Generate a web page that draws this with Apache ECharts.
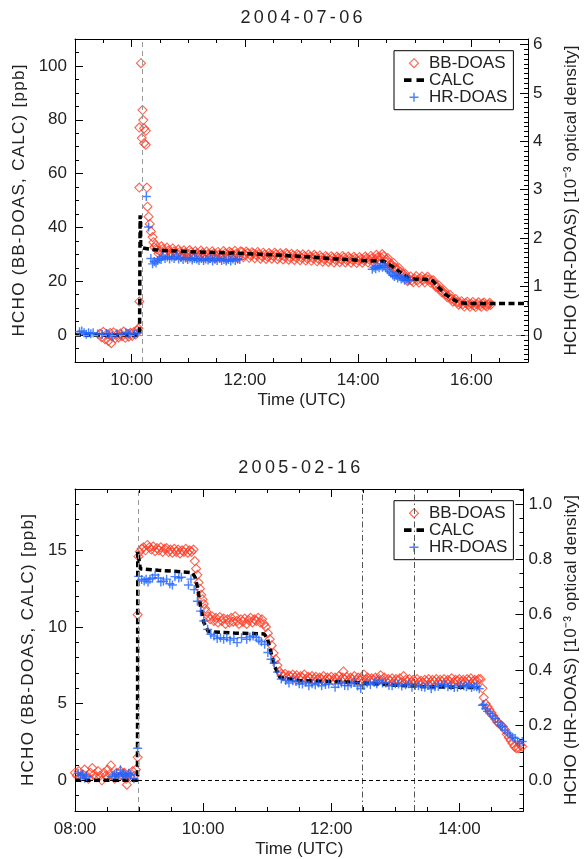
<!DOCTYPE html>
<html><head><meta charset="utf-8">
<script src="https://cdn.jsdelivr.net/npm/echarts@6/dist/echarts.min.js"></script>
<style>html,body{margin:0;padding:0;background:#fff}#c{width:588px;height:859px}</style>
</head><body><div id="c"></div>
<script>
// ---------------- DATA ----------------
const panelTitles = ['2004-07-06', '2005-02-16'];
const seriesNames = ['BB-DOAS', 'CALC', 'HR-DOAS'];
const xTitle = 'Time (UTC)';
const yLeftTitle = 'HCHO (BB-DOAS, CALC) [ppb]';
const yRightTitle = 'HCHO (HR-DOAS) [10⁻³ optical density]';

// Tick labels
const topTimeLabels = ['10:00', '12:00', '14:00', '16:00'];
const botTimeLabels = ['08:00', '10:00', '12:00', '14:00'];
const topPpbLabels = ['0', '20', '40', '60', '80', '100'];
const botPpbLabels = ['0', '5', '10', '15'];
const topOdLabels = ['0', '1', '2', '3', '4', '5', '6'];
const botOdLabels = ['0.0', '0.2', '0.4', '0.6', '0.8', '1.0'];

// Reference lines (time in decimal hours, value in ppb)
const topVLines = [10.19];
const topHLines = [0];
const botVDashed = [8.978];
const botVDashDot = [12.48, 13.29];
const botHLines = [0];

// 2004-07-06 : BB-DOAS [hour, ppb]
const bbTop = [
[9.44,0.5],[9.47,-0.8],[9.50,1.2],[9.53,-1.5],[9.56,0.3],[9.59,-2.2],[9.62,0.8],[9.64,-3.0],[9.65,-0.5],[9.68,1.0],
[9.71,-1.2],[9.74,0.2],[9.77,-0.9],[9.80,0.6],[9.83,-0.4],[9.86,1.3],[9.89,-1.0],[9.92,0.4],[9.95,-0.6],[9.98,0.9],
[10.01,-0.3],[10.04,1.1],[10.07,0.2],[10.10,1.8],[10.12,2.5],
[10.136,12.5],[10.136,77.1],[10.136,54.8],[10.165,101],[10.18,73.2],[10.193,83.6],[10.205,79.9],[10.22,76.8],[10.25,75.9],
[10.22,71.3],[10.25,70.7],[10.27,54.8],[10.28,47.7],[10.30,44.0],[10.32,41.3],[10.34,38.5],[10.37,36.4],[10.385,34.5],
[10.40,32.6],[10.45,31.8],[10.50,31.2],[10.55,32.0],[10.60,30.6],[10.65,31.4],[10.70,30.5],[10.75,31.1],[10.80,30.2],[10.85,30.9],
[10.90,29.8],[10.95,30.6],[11.00,30.0],[11.05,30.8],[11.10,29.6],[11.15,30.4],[11.20,29.7],[11.25,30.5],[11.30,29.4],[11.35,30.1],
[11.40,29.5],[11.45,30.3],[11.50,29.2],[11.55,30.0],[11.60,29.6],[11.65,30.4],[11.70,29.3],[11.75,30.6],[11.80,29.8],[11.85,30.2],
[11.90,29.4],[11.95,30.9],[12.00,29.9],[12.05,30.5],[12.10,29.6],[12.15,30.3],[12.20,29.8],[12.25,30.1],[12.30,29.3],[12.35,29.9],
[12.40,29.1],[12.45,29.8],[12.50,29.4],[12.55,30.0],[12.60,29.0],[12.65,29.7],[12.70,29.2],[12.75,29.9],[12.80,28.8],[12.85,29.5],
[12.90,28.9],[12.95,29.6],[13.00,28.7],[13.05,29.3],[13.10,28.5],[13.15,29.1],[13.20,28.6],[13.25,29.2],[13.30,28.3],[13.35,28.9],
[13.40,28.2],[13.45,28.8],[13.50,28.0],[13.55,28.7],[13.60,27.9],[13.65,28.6],[13.70,28.1],[13.75,28.8],[13.80,27.8],[13.85,28.5],
[13.90,27.9],[13.95,28.4],[14.00,27.7],[14.05,28.3],[14.10,27.8],[14.15,28.5],[14.20,28.0],[14.25,28.6],[14.30,28.2],[14.35,29.0],
[14.40,28.9],[14.45,29.3],[14.50,28.0],[14.55,27.0],[14.60,26.0],[14.65,25.2],[14.70,24.3],[14.75,23.5],[14.80,22.6],[14.85,21.5],
[14.90,20.8],[14.95,20.3],[15.00,21.0],[15.05,20.4],[15.10,21.1],[15.15,20.5],[15.20,21.0],[15.25,20.6],[15.30,20.2],[15.35,19.0],
[15.40,17.9],[15.45,17.0],[15.50,16.0],[15.55,15.1],[15.60,14.3],[15.65,13.5],[15.70,12.9],[15.75,12.2],[15.80,11.8],[15.85,11.5],
[15.90,11.9],[15.95,11.2],[16.00,11.6],[16.05,11.0],[16.10,11.5],[16.15,11.1],[16.20,11.7],[16.25,11.0],[16.30,11.4],[16.34,11.2],
[10.425,33.4],[10.475,30.3],[10.525,33.0],[10.575,30.0],[10.625,32.5],[10.675,29.6],[10.725,32.2],[10.775,29.4],[10.825,31.8],[10.875,29.2],
[10.925,31.5],[10.975,29.0],[11.025,31.6],[11.075,28.9],[11.125,31.2],[11.175,28.8],[11.225,31.4],[11.275,28.7],[11.325,31.0],[11.375,28.6],
[11.425,31.1],[11.475,28.5],[11.525,30.9],[11.575,28.7],[11.625,31.2],[11.675,28.4],[11.725,31.0],[11.775,28.8],[11.825,31.3],[11.875,28.6],
[11.925,31.1],[11.975,28.9],[12.025,31.0],[12.075,28.7],[12.125,30.8],[12.175,28.6],[12.225,30.9],[12.275,28.4],[12.325,30.6],[12.375,28.3],
[12.425,30.5],[12.475,28.4],[12.525,30.6],[12.575,28.2],[12.625,30.4],[12.675,28.1],[12.725,30.5],[12.775,28.0],[12.825,30.2],[12.875,27.9],
[12.925,30.1],[12.975,27.8],[13.025,30.0],[13.075,27.7],[13.125,29.9],[13.175,27.6],[13.225,29.8],[13.275,27.4],[13.325,29.6],[13.375,27.3],
[13.425,29.4],[13.475,27.2],[13.525,29.3],[13.575,27.0],[13.625,29.2],[13.675,27.1],[13.725,29.4],[13.775,27.0],[13.825,29.2],[13.875,26.9],
[13.925,29.1],[13.975,26.8],[14.025,29.0],[14.075,26.9],[14.125,29.2],[14.175,27.0],[14.225,29.4],[14.275,27.2],[14.325,29.8],[14.375,27.9],
[14.425,30.1],[14.475,27.6],[14.525,28.6],[14.575,25.9],[14.625,26.8],[14.675,24.0],[14.725,24.9],[14.775,22.0],[14.825,22.9],[14.875,20.0],
[14.925,21.8],[14.975,19.6],[15.025,21.9],[15.075,19.5],[15.125,21.8],[15.175,19.6],[15.225,21.7],[15.275,19.5],[15.325,20.4],[15.375,17.9],
[15.425,18.5],[15.475,15.9],[15.525,16.5],[15.575,14.1],[15.625,14.9],[15.675,12.4],[15.725,13.4],[15.775,11.3],[15.825,12.6],[15.875,10.6],
[15.925,12.4],[15.975,10.5],[16.025,12.3],[16.075,10.4],[16.125,12.2],[16.175,10.5],[16.225,12.1],[16.275,10.6],[16.325,12.0]
];

// 2004-07-06 : CALC [hour, ppb]
const calcTop = [
[9.0,0],[10.14,0],[10.15,44.5],[10.165,44],[10.17,32.5],[10.3,32.0],[10.5,31.5],[11.0,31.0],[11.9,30.4],[12.5,29.8],
[13.0,29.2],[13.6,28.3],[14.0,27.8],[14.45,27.4],[14.52,26.6],[14.6,25.6],[14.75,23.2],[14.9,21.0],[15.0,20.8],[15.3,20.6],
[15.4,18.2],[15.55,15.0],[15.7,13.0],[15.8,12.0],[15.9,11.8],[16.3,11.7],[17.0,11.7]
];

// 2004-07-06 : HR-DOAS [hour, 1e-3 optical density]
const hrTop = [
[9.08,0.067],[9.12,0.083],[9.16,0.05],[9.20,0.017],[9.24,0.05],[9.28,0.028],[9.32,0.05],[9.40,0.022],[9.48,0.011],[9.56,0.033],
[9.60,0.017],[9.66,-0.017],[9.74,0.028],[9.82,0.011],[9.90,0.05],[9.94,0.028],[9.97,0.033],[10.05,0.017],[10.10,0.044],
[10.26,2.86],[10.30,2.23],
[10.34,1.58],[10.37,1.47],[10.40,1.52],[10.43,1.49],[10.46,1.54],[10.49,1.58],[10.52,1.56],[10.55,1.62],[10.59,1.58],[10.63,1.61],
[10.67,1.57],[10.71,1.61],[10.75,1.58],[10.79,1.63],[10.83,1.57],[10.87,1.60],[10.91,1.56],[10.95,1.59],[10.99,1.56],[11.03,1.59],
[11.07,1.55],[11.11,1.58],[11.15,1.57],[11.19,1.54],[11.23,1.58],[11.27,1.54],[11.31,1.57],[11.35,1.55],[11.39,1.58],[11.43,1.53],
[11.47,1.57],[11.51,1.54],[11.55,1.58],[11.59,1.54],[11.63,1.56],[11.67,1.53],[11.71,1.56],[11.75,1.53],[11.79,1.57],[11.83,1.54],
[11.87,1.57],[11.91,1.56],
[14.25,1.36],[14.28,1.40],[14.31,1.37],[14.34,1.42],[14.37,1.39],[14.40,1.43],[14.43,1.40],[14.46,1.44],[14.49,1.39],[14.52,1.35],
[14.55,1.31],[14.58,1.28],[14.61,1.24],[14.64,1.21],[14.67,1.23],[14.70,1.18],[14.73,1.21],[14.76,1.16],[14.79,1.18],[14.82,1.13],
[14.85,1.16],[14.88,1.13],[14.91,1.14]
];

// 2005-02-16 : BB-DOAS [hour, ppb]
const bbBot = [
[8.00,0.5],[8.03,0.3],[8.06,0.6],[8.09,0.2],[8.12,0.4],[8.15,0.7],[8.18,0.3],[8.21,0.1],[8.24,0.5],[8.27,0.8],
[8.30,0.4],[8.33,0.2],[8.36,0.6],[8.39,0.3],[8.42,0.0],[8.45,0.5],[8.48,0.3],[8.51,0.7],[8.54,0.4],[8.56,0.97],
[8.59,0.3],[8.62,0.1],[8.65,0.5],[8.68,0.2],[8.71,0.6],[8.74,0.3],[8.77,0.5],[8.80,0.1],[8.81,-0.28],[8.84,0.4],
[8.87,0.2],[8.90,0.6],[8.93,0.3],[8.95,0.7],
[8.978,1.5],[8.978,10.8],[8.99,14.6],
[9.01,14.9],[9.04,15.1],[9.07,15.2],[9.10,15.0],[9.13,15.35],[9.16,15.2],[9.19,15.05],[9.22,15.25],[9.25,14.95],[9.28,15.15],
[9.31,15.0],[9.34,15.2],[9.37,14.9],[9.40,15.1],[9.43,15.15],[9.46,14.9],[9.49,15.05],[9.52,14.85],[9.55,15.1],[9.58,14.9],
[9.61,15.05],[9.64,14.8],[9.67,15.0],[9.70,14.9],[9.73,15.1],[9.76,14.85],[9.79,15.0],[9.82,14.9],[9.85,15.05],
[9.87,14.3],[9.89,13.8],[9.91,13.4],[9.93,12.9],[9.95,12.5],[9.97,12.1],[9.99,11.8],[10.01,11.5],[10.03,11.2],[10.05,11.0],[10.08,10.7],
[10.11,10.5],[10.14,10.7],[10.17,10.4],[10.20,10.6],[10.23,10.3],[10.26,10.65],[10.29,10.4],[10.32,10.55],[10.35,10.2],[10.38,10.5],
[10.41,10.3],[10.44,10.6],[10.47,10.35],[10.50,10.7],[10.53,10.4],[10.56,10.2],[10.59,10.5],[10.62,10.35],[10.65,10.55],[10.68,10.2],
[10.71,10.45],[10.74,10.6],[10.77,10.3],[10.80,10.5],[10.83,10.4],[10.86,10.6],[10.89,10.3],[10.92,10.5],[10.95,10.2],
[10.98,10.0],[11.01,9.6],[11.04,9.2],[11.07,8.8],[11.10,8.3],[11.13,7.9],[11.16,7.5],[11.19,7.1],[11.22,6.95],
[11.25,6.8],[11.28,6.95],[11.31,6.7],[11.34,6.85],[11.37,6.75],[11.40,6.9],[11.43,6.7],[11.46,6.85],[11.49,6.65],[11.52,6.8],
[11.55,6.7],[11.58,6.9],[11.61,6.6],[11.64,6.75],[11.67,6.65],[11.70,6.8],[11.73,6.6],[11.76,6.75],[11.79,6.55],[11.82,6.7],
[11.85,6.6],[11.88,6.8],[11.91,6.55],[11.94,6.7],[11.97,6.6],[12.00,6.75],[12.03,6.5],[12.06,6.7],[12.09,6.6],[12.12,6.8],
[12.15,6.55],[12.18,6.7],[12.19,7.1],[12.21,6.6],[12.24,6.75],[12.27,6.5],[12.30,6.7],[12.33,6.6],[12.36,6.8],[12.39,6.55],
[12.42,6.7],[12.45,6.5],[12.48,6.65],[12.51,6.9],[12.54,6.6],[12.57,6.7],[12.60,6.5],[12.63,6.65],[12.66,6.55],[12.69,6.7],
[12.72,6.45],[12.75,6.6],[12.77,6.85],[12.80,6.55],[12.83,6.7],[12.86,6.45],[12.89,6.6],[12.92,6.5],[12.95,6.65],[12.98,6.45],
[13.01,6.6],[13.04,6.5],[13.07,6.65],[13.10,6.4],[13.13,6.8],[13.16,6.55],[13.19,6.45],[13.22,6.6],[13.25,6.4],[13.28,6.55],
[13.31,6.45],[13.34,6.6],[13.37,6.4],[13.40,6.5],[13.43,6.35],[13.46,6.55],[13.49,6.45],[13.52,6.6],[13.55,6.4],[13.58,6.55],
[13.61,6.45],[13.64,6.6],[13.67,6.4],[13.70,6.55],[13.73,6.45],[13.76,6.6],[13.79,6.4],[13.82,6.55],[13.85,6.45],[13.88,6.65],
[13.91,6.4],[13.94,6.55],[13.97,6.5],[14.00,6.6],[14.03,6.45],[14.06,6.55],[14.09,6.4],[14.12,6.6],[14.15,6.5],[14.18,6.65],
[14.21,6.45],[14.24,6.55],[14.27,6.5],[14.30,6.6],
[14.33,6.6],[14.36,6.0],[14.38,5.4],[14.41,5.0],[14.44,4.8],[14.47,4.6],[14.50,4.4],[14.53,4.2],[14.56,4.0],[14.59,3.8],
[14.62,3.7],[14.65,3.6],[14.68,3.5],[14.71,3.3],[14.74,3.0],[14.77,2.8],[14.80,2.6],[14.83,2.4],[14.86,2.2],[14.89,2.1],
[14.92,2.1],[14.95,2.3],[14.98,2.2]
];

// 2005-02-16 : CALC [hour, ppb]
const calcBot = [
[8.0,0],[8.975,0],[8.98,14.9],[9.0,14.9],[9.02,13.8],[9.3,13.7],[9.83,13.55],[9.88,13.2],[9.92,12.4],[9.96,11.3],
[10.01,10.3],[10.08,9.7],[10.5,9.6],[10.95,9.55],[11.0,9.3],[11.05,8.5],[11.12,7.4],[11.2,6.7],[11.5,6.5],[12.0,6.45],
[12.5,6.35],[13.0,6.2],[13.5,6.1],[14.3,6.05]
];

// 2005-02-16 : HR-DOAS [hour, 1e-3 optical density]
const hrBot = [
[8.05,0.026],[8.09,0.017],[8.12,0.020],[8.15,0.008],[8.18,0.014],[8.58,0.014],[8.62,0.020],[8.65,0.026],[8.68,0.014],[8.71,0.038],
[8.74,0.020],[8.76,0.026],[8.79,0.020],[8.81,0.014],[8.84,0.026],[8.87,0.020],[8.92,0.006],
[8.978,0.116],[8.993,0.739],
[9.04,0.728],[9.08,0.722],[9.11,0.729],[9.14,0.719],[9.17,0.729],[9.21,0.733],[9.25,0.744],[9.30,0.733],[9.34,0.719],[9.38,0.721],
[9.43,0.729],[9.48,0.712],[9.52,0.708],[9.56,0.738],[9.62,0.733],[9.66,0.736],[9.77,0.708],[9.81,0.729],[9.86,0.691],[9.91,0.649],
[9.96,0.613],[10.01,0.577],[10.07,0.547],[10.12,0.529],[10.17,0.523],[10.22,0.514],[10.27,0.517],[10.32,0.511],[10.37,0.517],[10.42,0.508],
[10.48,0.514],[10.53,0.499],[10.60,0.517],[10.68,0.511],[10.73,0.519],[10.78,0.523],[10.83,0.517],[10.87,0.508],[10.91,0.502],[10.96,0.493],
[11.01,0.463],[11.06,0.439],[11.11,0.424],[11.16,0.392],[11.22,0.367],[11.29,0.362],[11.34,0.353],[11.40,0.361],[11.45,0.358],[11.50,0.350],
[11.55,0.349],[11.60,0.356],[11.65,0.343],[11.70,0.350],[11.75,0.346],[11.80,0.353],[11.85,0.343],[11.91,0.347],[11.96,0.349],[12.06,0.337],
[12.11,0.350],[12.16,0.353],[12.21,0.344],[12.26,0.343],[12.31,0.350],[12.36,0.355],[12.41,0.342],[12.46,0.333],[12.51,0.344],[12.56,0.353],
[12.61,0.347],[12.67,0.355],[12.71,0.350],[12.75,0.361],[12.80,0.353],[12.85,0.353],[12.90,0.344],[12.95,0.343],[13.00,0.350],[13.05,0.349],
[13.10,0.342],[13.16,0.346],[13.21,0.350],[13.26,0.337],[13.31,0.344],[13.36,0.343],[13.41,0.339],[13.46,0.337],[13.51,0.344],[13.56,0.332],
[13.62,0.339],[13.67,0.341],[13.72,0.347],[13.77,0.346],[13.82,0.339],[13.87,0.343],[13.92,0.336],[13.97,0.337],[14.02,0.344],[14.07,0.343],
[14.11,0.339],[14.15,0.346],[14.19,0.336],[14.23,0.341],[14.27,0.339],[14.31,0.332],
[14.36,0.272],[14.38,0.275],[14.41,0.259],[14.44,0.250],[14.48,0.242],[14.52,0.233],[14.56,0.224],[14.60,0.211],[14.64,0.200],[14.67,0.194],
[14.71,0.182],[14.75,0.172],[14.79,0.164],[14.83,0.156],[14.87,0.152],[14.91,0.142],[14.94,0.134],[14.98,0.141]
];

// ---------------- RENDERING ----------------
const FONT = '"Liberation Sans", Arial, Helvetica, sans-serif';
const TXT = '#222';
const RED = '#ff3b24';
const BLUE = '#1e64ff';
const PLUS = 'path://M4.2,0H5.8V4.2H10V5.8H5.8V10H4.2V5.8H0V4.2H4.2Z';
const DIAMOND = 'path://M5,0L10,5L5,10L0,5Z';
const DASHES = 'path://M0,0H6V3H0ZM10,0H16V3H10Z';

// The original plotting font sets these titles wider than Helvetica: spread them to the
// rendered length seen in the original (pixels), drawing them glyph by glyph.
const TITLE_LENGTH = {};
TITLE_LENGTH[yLeftTitle] = 272;
TITLE_LENGTH[yRightTitle] = 310;
panelTitles.forEach(t => { TITLE_LENGTH[t] = 122; });
(function () {
  const P = CanvasRenderingContext2D.prototype, orig = P.fillText;
  P.fillText = function (t, x, y, w) {
    const target = TITLE_LENGTH[t];
    if (target) {
      const chars = Array.from(t);
      const widths = chars.map(ch => this.measureText(ch).width);
      const natural = widths.reduce((a, b) => a + b, 0);
      const gap = Math.max(0, (target - natural) / (chars.length - 1));
      const total = natural + gap * (chars.length - 1);
      const align = this.textAlign;
      let sx = align === 'center' ? x - total / 2 : (align === 'right' || align === 'end') ? x - total : x;
      this.textAlign = 'left';
      chars.forEach((ch, i) => { orig.call(this, ch, sx, y); sx += widths[i] + gap; });
      this.textAlign = align;
      return;
    }
    return w === undefined ? orig.call(this, t, x, y) : orig.call(this, t, x, y, w);
  };
})();

function toHours(s) { const p = s.split(':').map(Number); return p[0] + p[1] / 60; }
function range(a, b, s) { const r = []; for (let i = 0; a + i * s <= b + 1e-9; i++) r.push(Math.round((a + i * s) * 10000) / 10000); return r; }
function lookup(vals, labels) { return v => { const i = vals.findIndex(m => Math.abs(m - v) < 1e-6); return i >= 0 ? labels[i] : ''; }; }

const ts = { fontFamily: FONT, color: TXT, fontSize: 17 };
const black = { color: '#000', width: 1 };

function xAxes(gi, min, max, labels, title) {
  const majors = labels.map(toHours);
  const minors = range(min, max, 0.5);
  const base = { gridIndex: gi, type: 'value', min, max, splitLine: { show: false } };
  return [
    { ...base, position: 'bottom', axisLine: { show: true, onZero: false, lineStyle: black },
      axisTick: { show: true, inside: true, length: 8, customValues: majors, lineStyle: black },
      axisLabel: { show: true, customValues: majors, formatter: lookup(majors, labels), margin: 10, ...ts },
      name: xTitle, nameLocation: 'middle', nameGap: 30, nameTextStyle: ts },
    { ...base, position: 'bottom', axisLine: { show: false, onZero: false },
      axisTick: { show: true, inside: true, length: 4, customValues: minors, lineStyle: black }, axisLabel: { show: false } },
    { ...base, position: 'top', axisLine: { show: true, onZero: false, lineStyle: black },
      axisTick: { show: true, inside: true, length: 8, customValues: majors, lineStyle: black }, axisLabel: { show: false },
      name: title, nameLocation: 'middle', nameGap: 12, nameTextStyle: { ...ts, fontSize: 18 } },
    { ...base, position: 'top', axisLine: { show: false, onZero: false },
      axisTick: { show: true, inside: true, length: 4, customValues: minors, lineStyle: black }, axisLabel: { show: false } }
  ];
}

function yAxes(gi, lmin, lmax, lLabels, lMinor, rLabels, rMinor, ratio) {
  const lMaj = lLabels.map(Number), rMaj = rLabels.map(Number);
  const rmin = lmin / ratio, rmax = lmax / ratio;
  const lb = { gridIndex: gi, type: 'value', min: lmin, max: lmax, splitLine: { show: false }, position: 'left' };
  const rb = { gridIndex: gi, type: 'value', min: rmin, max: rmax, splitLine: { show: false }, position: 'right' };
  return [
    { ...lb, axisLine: { show: true, onZero: false, lineStyle: black },
      axisTick: { show: true, inside: true, length: 8, customValues: lMaj, lineStyle: black },
      axisLabel: { show: true, customValues: lMaj, formatter: lookup(lMaj, lLabels), margin: 8, ...ts },
      name: yLeftTitle, nameLocation: 'middle', nameRotate: 90, nameGap: 37, nameTextStyle: ts },
    { ...lb, axisLine: { show: false, onZero: false },
      axisTick: { show: true, inside: true, length: 4, customValues: range(lmin, lmax, lMinor), lineStyle: black }, axisLabel: { show: false } },
    { ...rb, axisLine: { show: true, onZero: false, lineStyle: black },
      axisTick: { show: true, inside: true, length: 8, customValues: rMaj, lineStyle: black },
      axisLabel: { show: true, customValues: rMaj, formatter: lookup(rMaj, rLabels), margin: 5, ...ts },
      name: yRightTitle, nameLocation: 'middle', nameRotate: 90, nameGap: 35, nameTextStyle: ts },
    { ...rb, axisLine: { show: false, onZero: false },
      axisTick: { show: true, inside: true, length: 4, customValues: range(Math.ceil(rmin / rMinor) * rMinor, rmax, rMinor), lineStyle: black }, axisLabel: { show: false } }
  ];
}

function vLine(x, color, type) { return { xAxis: x, lineStyle: { color, type, width: 1 } }; }
function hLine(y, color, type) { return { yAxis: y, lineStyle: { color, type, width: 1 } }; }

function panelSeries(p, bb, calc, hr, marks) {
  const xi = 4 * p, yi = 4 * p;
  return [
    { name: seriesNames[0], type: 'scatter', xAxisIndex: xi, yAxisIndex: yi, data: bb, symbol: 'diamond', symbolSize: 9,
      itemStyle: { color: 'rgba(255,255,255,0)', borderColor: RED, borderWidth: 1.1 }, emphasis: { disabled: true },
      markLine: { silent: true, symbol: ['none', 'none'], label: { show: false }, animation: false, data: marks } },
    { name: seriesNames[1], type: 'line', xAxisIndex: xi, yAxisIndex: yi, data: calc, showSymbol: false, symbol: 'none',
      lineStyle: { color: '#000', width: 3.5, type: [6, 3.5] }, itemStyle: { color: '#000' }, emphasis: { disabled: true }, z: 3 },
    { name: seriesNames[2], type: 'scatter', xAxisIndex: xi, yAxisIndex: yi + 2, data: hr, symbol: PLUS, symbolSize: 9,
      itemStyle: { color: BLUE }, emphasis: { disabled: true }, z: 4 }
  ];
}

function legend(top) {
  return { left: 394, top, orient: 'vertical', itemWidth: 20, itemHeight: 9, itemGap: 0,
    data: [
      { name: seriesNames[0], icon: DIAMOND, itemStyle: { color: 'rgba(255,255,255,0)', borderColor: RED, borderWidth: 1.1 } },
      { name: seriesNames[1], icon: DASHES, itemStyle: { color: '#000', borderWidth: 0 } },
      { name: seriesNames[2], icon: PLUS, itemStyle: { color: BLUE, borderWidth: 0 } }
    ],
    padding: [4, 6, 4, 10], borderColor: '#000', borderWidth: 1, borderRadius: 0, selectedMode: false,
    textStyle: { fontFamily: FONT, color: TXT, fontSize: 17, lineHeight: 15.5 } };
}

const topMarks = [...topVLines.map(v => vLine(v, '#999', [5, 4])), ...topHLines.map(v => hLine(v, '#999', [5, 4]))];
const botMarks = [...botVDashed.map(v => vLine(v, '#999', [5, 4])), ...botVDashDot.map(v => vLine(v, '#555', [6, 3, 1.5, 3])),
                  ...botHLines.map(v => hLine(v, '#000', [4, 3]))];

const chart = echarts.init(document.getElementById('c'), null, { renderer: 'canvas' });
chart.setOption({
  animation: false,
  backgroundColor: '#fff',
  grid: [
    { left: 75, top: 39, width: 458, height: 323 },
    { left: 75, top: 489, width: 458, height: 324 }
  ],
  legend: [legend(50.7), legend(500.7)],
  xAxis: [...xAxes(0, 9, 17, topTimeLabels, panelTitles[0]), ...xAxes(1, 8, 15, botTimeLabels, panelTitles[1])],
  yAxis: [...yAxes(0, -10, 110, topPpbLabels, 5, topOdLabels, 0.1, 18), ...yAxes(1, -2, 19, botPpbLabels, 1, botOdLabels, 0.05, 18)],
  series: [...panelSeries(0, bbTop, calcTop, hrTop, topMarks), ...panelSeries(1, bbBot, calcBot, hrBot, botMarks)]
});
</script></body></html>
